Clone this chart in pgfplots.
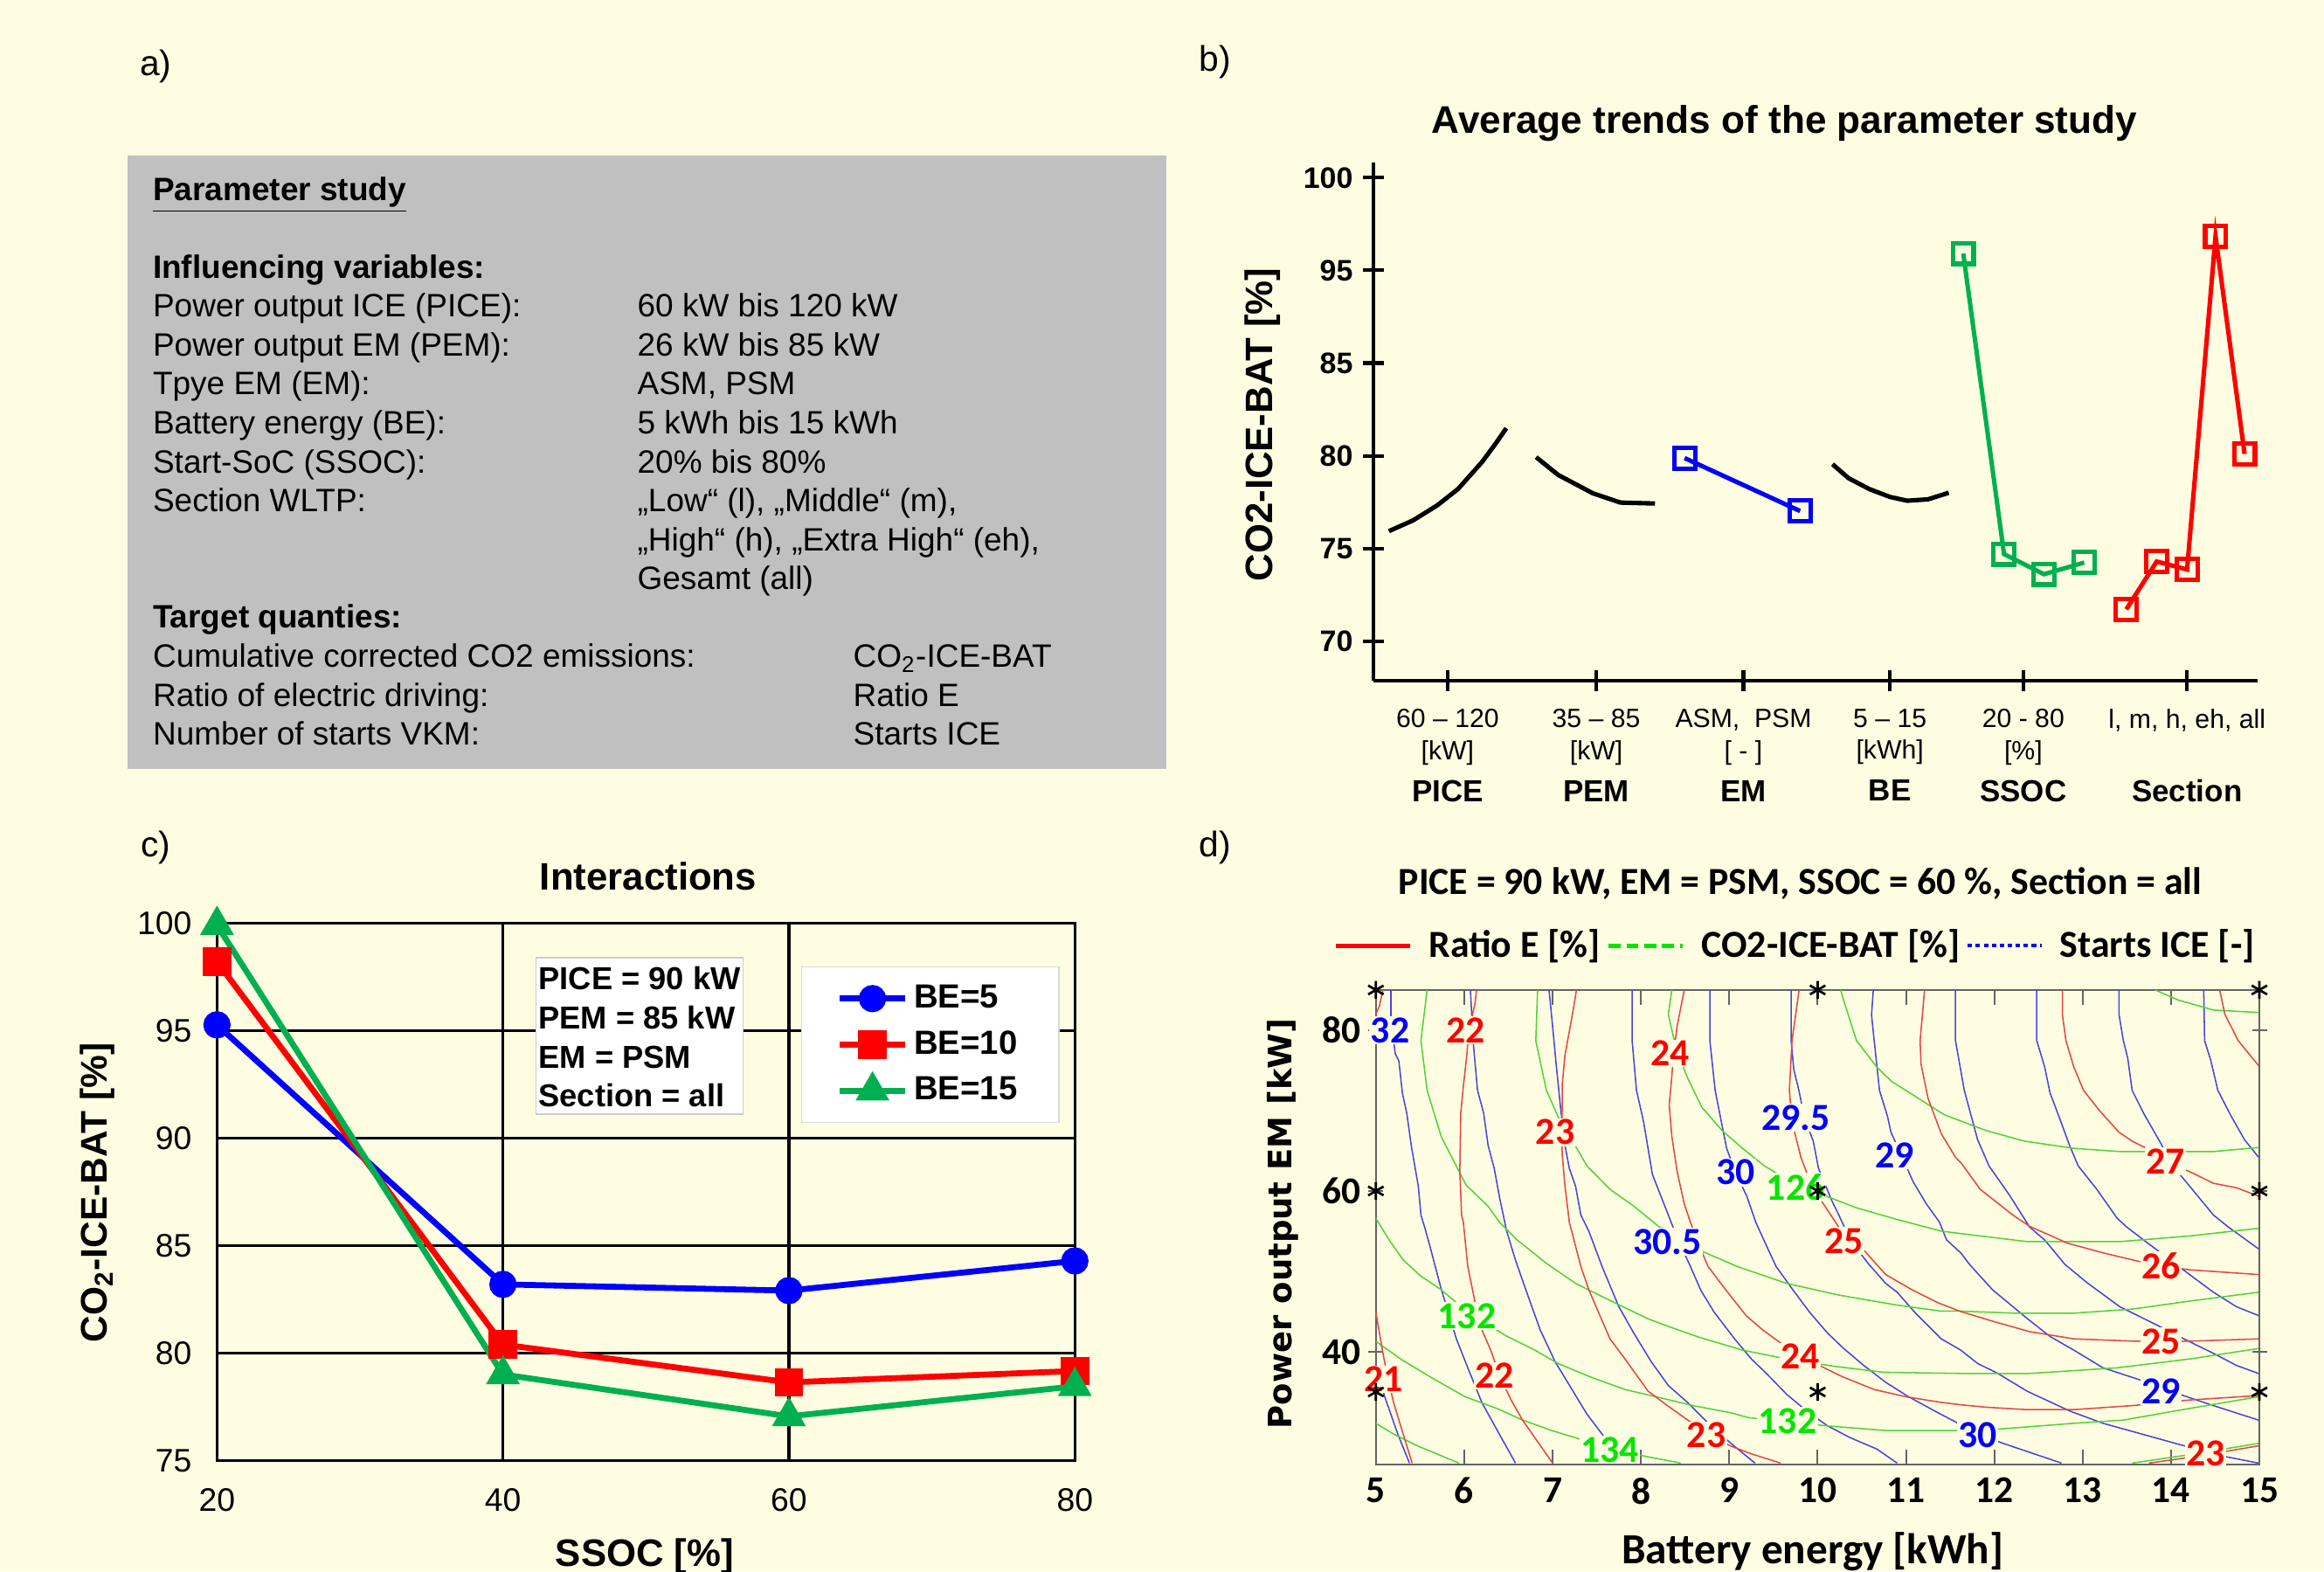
\documentclass[border=0pt]{standalone}
\usepackage{pgfplots}
\pgfplotsset{compat=1.18}
\usepackage{fontspec}
\setmainfont{Liberation Sans}
\newfontfamily\carlito{Carlito}
\newfontfamily\dejavu{DejaVu Sans}

\definecolor{bgy}{RGB}{255,253,225}
\definecolor{boxgray}{RGB}{192,192,192}
\definecolor{offgreen}{RGB}{0,176,80}
\definecolor{cred}{RGB}{228,70,70}
\definecolor{cgreen}{RGB}{80,210,60}
\definecolor{cblue}{RGB}{70,70,215}
\definecolor{lgreen}{RGB}{0,230,0}
\definecolor{frame}{RGB}{100,100,100}

\newcommand\fs[1]{\fontsize{#1}{1.2\dimexpr#1pt\relax}\selectfont}
\newcommand\cat[1]{\\[3.5pt]{\fs{10.3}\bfseries #1}}
\newcommand\clab[3]{\node[fill=bgy,inner sep=0.4pt,text=#3] at (axis cs:#1) {#2};}

\begin{document}
\begin{tikzpicture}
\path[use as bounding box] (0pt,0pt) rectangle (784pt,-530pt);
\fill[bgy] (0pt,0pt) rectangle (784pt,-530pt);

% ---------------- a) ----------------
\node[font=\fs{12}] at (52.5pt,-22.5pt) {a)};
\fill[boxgray] (43pt,-52.5pt) rectangle (393.5pt,-259.5pt);
\begin{scope}[every node/.style={anchor=base west,inner sep=0pt,font=\fs{10.9}}]
\node at (51.4pt,-67.55pt) {\bfseries\underline{Parameter study}};
\node at (51.4pt,-93.9pt) {\bfseries Influencing variables:};
\node at (51.4pt,-106.75pt) {Power output ICE (PICE):};
\node at (214.85pt,-106.75pt) {60 kW bis 120 kW};
\node at (51.4pt,-120.05pt) {Power output EM (PEM):};
\node at (214.85pt,-120.05pt) {26 kW bis 85 kW};
\node at (51.4pt,-133.15pt) {Tpye EM (EM):};
\node at (214.85pt,-133.15pt) {ASM, PSM};
\node at (51.4pt,-146.4pt) {Battery energy (BE):};
\node at (214.85pt,-146.4pt) {5 kWh bis 15 kWh};
\node at (51.4pt,-159.55pt) {Start-SoC (SSOC):};
\node at (214.85pt,-159.55pt) {20\% bis 80\%};
\node at (51.4pt,-172.65pt) {Section WLTP:};
\node at (214.85pt,-172.65pt) {„Low“ (l), „Middle“ (m),};
\node at (214.85pt,-185.9pt) {„High“ (h), „Extra High“ (eh),};
\node at (214.85pt,-198.75pt) {Gesamt (all)};
\node at (51.4pt,-211.65pt) {\bfseries Target quanties:};
\node at (51.4pt,-225.15pt) {Cumulative corrected CO2 emissions:};
\node at (287.65pt,-225.15pt) {CO\textsubscript{2}-ICE-BAT};
\node at (51.4pt,-238.25pt) {Ratio of electric driving:};
\node at (287.65pt,-238.25pt) {Ratio E};
\node at (51.4pt,-251.25pt) {Number of starts VKM:};
\node at (287.65pt,-251.25pt) {Starts ICE};
\end{scope}

% ---------------- b) ----------------
\node[font=\fs{12}] at (410pt,-21pt) {b)};
\node[font=\fs{13}\bfseries] at (602pt,-41.5pt) {Average trends of the parameter study};
\node[font=\fs{12.9}\bfseries,rotate=90] at (426pt,-143.25pt) {CO2-ICE-BAT [\%]};
\begin{axis}[at={(463.4pt,-229.7pt)}, anchor=south west, scale only axis,
  width=298.2pt, height=174.95pt,
  xmin=926.8, xmax=1523.2, ymin=-0.43, ymax=5.166,
  axis lines*=left, axis line style={line width=1.2pt,-},
  tick align=center, major tick length=7pt, tick style={line width=1.2pt,black},
  ytick={0,1,2,3,4,5}, yticklabels={70,75,80,85,95,100},
  yticklabel style={font=\fs{10}\bfseries},
  xtick={976.7,1077.0,1176.3,1275.1,1365.1,1475.6},
  xticklabels={{60 – 120\\{[kW]}\cat{PICE}},{35 – 85\\{[kW]}\cat{PEM}},
    {ASM,\ \ PSM\\{[ - ]}\cat{EM}},{5 – 15\\{[kWh]}\cat{BE}},
    {20 - 80\\{[\%]}\cat{SSOC}},{l, m, h, eh, all\\\mbox{}\cat{Section}}},
  xticklabel style={align=center,font=\fs{8.9},anchor=north,yshift=-2.5pt},
  clip=false]
\addplot[black,line width=1.5pt] coordinates {(937.1,1.187)(953.4,1.303)(969.7,1.465)(983.7,1.641)(1000.0,1.934)(1009.3,2.136)(1016.3,2.298)};
\addplot[black,line width=1.5pt] coordinates {(1036.4,1.985)(1051.3,1.793)(1074.6,1.596)(1093.3,1.495)(1116.6,1.485)};
\addplot[black,line width=1.5pt] coordinates {(1236.4,1.909)(1247.2,1.758)(1261.2,1.641)(1275.1,1.556)(1286.8,1.515)(1300.8,1.530)(1314.8,1.601)};
\addplot[blue,line width=1.5pt,mark=square,mark size=3.5pt] coordinates {(1136.6,1.975)(1214.5,1.404)};
\addplot[offgreen,line width=1.5pt,mark=square,mark size=3.5pt] coordinates {(1324.6,4.182)(1352.1,0.939)(1379.1,0.722)(1406.2,0.848)};
\addplot[red,line width=1.5pt,mark=square,mark size=3.5pt] coordinates {(1434.6,0.343)(1455.1,0.859)(1475.6,0.773)(1494.8,4.369)(1514.4,2.020)};
\end{axis}

% ---------------- c) ----------------
\node[font=\fs{12}] at (52.5pt,-286pt) {c)};
\node[font=\fs{12.9}\bfseries] at (218.7pt,-295.65pt) {Interactions};
\node[font=\fs{12.5}\bfseries,rotate=90] at (33pt,-402.25pt) {CO\textsubscript{2}-ICE-BAT [\%]};
\node[font=\fs{12.9}\bfseries] at (217.5pt,-525pt) {SSOC [\%]};
\begin{axis}[at={(73.2pt,-492.6pt)}, anchor=south west, scale only axis,
  width=289.4pt, height=181.3pt,
  xmin=20, xmax=80, ymin=75, ymax=100,
  xtick={20,40,60,80}, ytick={75,80,...,100},
  grid=major, major grid style={black,line width=1pt},
  axis line style={line width=1pt}, tick style={draw=none},
  /pgf/number format/assume math mode=true,
  ticklabel style={font=\fs{11}},
  yticklabel style={xshift=-5pt}, xticklabel style={yshift=-6pt},
  legend style={at={(0.6805,0.919)}, anchor=north west, draw=gray!30, fill=white,
    font=\fs{11.3}\bfseries, row sep=2.2pt, inner xsep=12pt, inner ysep=4pt},
  legend cell align=left,
  legend image code/.code={\draw[mark repeat=2,mark phase=2,#1] plot coordinates {(0pt,0pt) (11pt,0pt) (22pt,0pt)};},
  clip=false]
\addplot[blue,line width=2pt,mark=*,mark size=3.6pt] coordinates {(20,95.26)(40,83.19)(60,82.90)(80,84.28)};
\addlegendentry{BE=5}
\addplot[red,line width=2pt,mark=square*,mark size=3.8pt] coordinates {(20,98.2)(40,80.39)(60,78.63)(80,79.16)};
\addlegendentry{BE=10}
\addplot[offgreen,line width=2pt,mark=triangle*,mark size=4.6pt] coordinates {(20,99.9)(40,79.0)(60,77.05)(80,78.45)};
\addlegendentry{BE=15}
\end{axis}
\fill[white] (180.8pt,-323.05pt) rectangle (250.75pt,-375.8pt);
\draw[gray!40,line width=0.4pt] (180.8pt,-323.05pt) rectangle (250.75pt,-375.8pt);
\begin{scope}[every node/.style={anchor=base west,inner sep=0pt,font=\fs{10.7}\bfseries}]
\node at (181.5pt,-333.85pt) {PICE = 90 kW};
\node at (181.5pt,-347.1pt) {PEM = 85 kW};
\node at (181.5pt,-360.35pt) {EM = PSM};
\node at (181.5pt,-373.2pt) {Section = all};
\end{scope}

% ---------------- d) ----------------
\node[font=\fs{12}] at (410pt,-286pt) {d)};
\node[font=\carlito\bfseries\fs{12.9}] at (607.3pt,-298pt) {PICE = 90 kW, EM = PSM, SSOC = 60 \%, Section = all};
\node[font=\carlito\bfseries\fs{14.5}] at (611.5pt,-523.3pt) {Battery energy [kWh]};
\node[font=\dejavu\bfseries\fs{10.9},rotate=90] at (432.65pt,-412.7pt) {Power output EM [kW]};
\begin{axis}[at={(464.15pt,-493.9pt)}, anchor=south west, scale only axis,
  width=298.05pt, height=160pt,
  xmin=5, xmax=15, ymin=26, ymax=85,
  xtick={5,...,15}, ytick={40,60,80},
  axis line style={draw=frame,line width=0.6pt},
  tick style={draw=frame,line width=0.6pt},
  xtick align=inside, ytick align=center, major tick length=5pt,
  /pgf/number format/assume math mode=true,
  ticklabel style={font=\carlito\bfseries\fs{12.8}},
  yticklabel style={xshift=1pt}, xticklabel style={yshift=-1pt},
  legend style={at={(-0.0485,1.093)}, anchor=west, draw=none, fill=none,
    legend columns=3, font=\carlito\bfseries\fs{12.9}, inner sep=0pt,
    /tikz/every odd column/.append style={column sep=3.5pt}},
  legend image code/.code={\draw[#1] (0pt,0pt) -- (25pt,0pt);},
  clip=false]
\addlegendimage{red,line width=1.6pt}
\addlegendentry{Ratio E [\%]}
\addlegendimage{lgreen,line width=1.6pt,dash pattern=on 4pt off 2pt}
\addlegendentry{CO2-ICE-BAT [\%]}
\addlegendimage{blue,line width=1.2pt,dash pattern=on 1.5pt off 1.2pt}
\addlegendentry{Starts ICE [-]}
% Starts ICE
\pgfplotsset{every axis plot/.append style={forget plot,line width=0.45pt}}
\addplot[cblue] coordinates {(5.0,38.4)(5.10,34.4)(5.25,29.7)(5.38,26.15)};
\addplot[cblue] coordinates {(5.17,85)(5.17,81)(5.22,77.06)(5.26,76.16)(5.30,72.17)(5.35,69.65)(5.40,65.67)(5.48,60.61)(5.51,56.99)(5.56,55.19)(5.61,53.19)(5.74,47.77)(5.91,41.63)(6.04,38.01)(6.20,33.67)(6.40,29.70)(6.58,26.15)};
\addplot[cblue] coordinates {(6.07,85.0)(6.10,78.68)(6.15,72.54)(6.22,69.65)(6.27,65.67)(6.34,62.78)(6.40,59.16)(6.48,55.0)(6.58,51.39)(6.73,46.69)(6.86,42.71)(7.03,38.73)(7.19,35.84)(7.39,32.22)(7.59,29.33)(7.89,26.15)};
\addplot[cblue] coordinates {(6.96,85.0)(7.00,80.5)(7.04,75.8)(7.09,70.37)(7.14,65.67)(7.19,62.78)(7.26,60.6)(7.32,57.0)(7.41,55.0)(7.56,50.6)(7.75,45.6)(7.92,42.3)(8.12,38.7)(8.31,35.8)(8.53,33.67)(8.79,30.8)(9.02,28.6)(9.29,26.15)};
\addplot[cblue] coordinates {(7.90,85)(7.90,78.7)(7.95,72.5)(8.03,68.6)(8.13,62.05)(8.31,57.0)(8.42,53.9)(8.55,50.85)(8.68,47.6)(8.83,44.9)(9.06,41.6)(9.25,39.1)(9.42,37.3)(9.65,34.7)(9.88,32.6)(10.11,30.8)(10.37,29.3)(10.67,27.9)(10.90,26.15)};
\addplot[cblue] coordinates {(8.78,85)(8.78,78.7)(8.84,72.5)(8.91,68.6)(8.97,65.3)(9.07,62.3)(9.20,59.3)(9.30,56.1)(9.42,53.2)(9.53,50.6)(9.72,47.7)(9.91,44.9)(10.11,42.35)(10.28,40.55)(10.51,38.4)(10.77,36.2)(11.03,34.4)(11.33,32.6)(11.59,31.1)(11.81,29.8)(12.10,28.6)(12.76,26.15)};
\addplot[cblue] coordinates {(9.70,85)(9.70,78.7)(9.73,75.1)(9.79,72.4)(9.85,69.1)(9.95,66.2)(10.01,62.8)(10.16,58.8)(10.24,57.0)(10.37,53.9)(10.57,51.0)(10.77,48.5)(10.90,47.4)(11.10,44.9)(11.40,41.6)(11.62,40.2)(11.81,38.55)(12.04,37.3)(12.37,35.1)(12.86,32.6)(13.23,31.1)(13.69,29.7)(14.05,28.6)(14.55,27.1)(14.99,26.15)};
\addplot[cblue] coordinates {(10.63,85)(10.61,81.9)(10.64,78.7)(10.70,72.5)(10.79,69.3)(10.83,67.3)(10.95,64.4)(11.08,61.15)(11.23,58.4)(11.38,56.1)(11.46,53.9)(11.62,52.3)(11.72,50.85)(11.98,47.7)(12.37,44.15)(12.63,41.9)(12.90,40.2)(13.23,38.0)(13.62,36.6)(13.9,35.5)(14.18,34.4)(14.48,33.3)(14.99,31.5)};
\addplot[cblue] coordinates {(11.56,85)(11.56,78.7)(11.66,72.5)(11.81,66.4)(11.94,63.1)(12.17,59.5)(12.40,55.5)(12.57,53.9)(12.80,50.85)(13.06,48.5)(13.42,45.6)(13.88,43.1)(14.21,41.25)(14.48,39.8)(14.74,38.3)(14.99,37.3)};
\addplot[cblue] coordinates {(12.48,85)(12.48,78.7)(12.57,75.4)(12.63,72.2)(12.73,69.3)(12.85,65.7)(12.95,63.1)(13.16,60.2)(13.39,56.6)(13.50,55.5)(13.69,53.9)(13.95,51.75)(14.21,49.6)(14.48,47.4)(14.74,45.6)(14.99,44.5)};
\addplot[cblue] coordinates {(13.41,85)(13.41,82)(13.46,78.7)(13.51,76.5)(13.56,72.5)(13.69,69.65)(13.88,66.0)(14.02,63.1)(14.21,60.6)(14.48,57.0)(14.65,55.5)(14.99,52.8)};
\addplot[cblue] coordinates {(14.37,85)(14.38,78.7)(14.45,76.2)(14.53,72.5)(14.68,69.3)(14.83,66.4)(14.99,64.2)};
% CO2-ICE-BAT
\addplot[cgreen] coordinates {(5.0,31.1)(5.21,29.7)(5.48,28.25)(5.94,26.15)};
\addplot[cgreen] coordinates {(5.0,41.3)(5.28,39.1)(5.61,36.9)(6.01,34.4)(6.37,32.95)(6.66,31.5)(6.99,30.2)(7.26,29.3)(7.65,27.9)(8.07,26.95)(8.45,26.15)};
\addplot[cgreen] coordinates {(5.0,56.6)(5.15,53.9)(5.31,51.4)(5.51,49.4)(5.74,47.7)(6.03,45.0)(6.47,42.0)(6.80,40.2)(7.06,38.55)(7.42,36.9)(7.82,35.3)(8.25,34.2)(8.59,33.3)(9.02,32.4)(9.22,31.8)(9.66,31.3)(10.08,30.8)(10.77,30.2)(11.68,30.2)(12.07,30.4)(12.90,31.1)(13.46,31.5)(14.21,32.95)(14.99,34.4)};
\addplot[cgreen] coordinates {(5.58,85)(5.51,78.7)(5.58,72.5)(5.74,66.75)(5.91,63.1)(6.02,60.75)(6.27,58.1)(6.40,56.1)(6.60,53.9)(6.93,51.0)(7.26,48.5)(7.59,46.7)(8.08,44.1)(8.31,43.15)(8.66,41.8)(9.15,40.2)(9.65,39.1)(10.18,38.2)(10.74,37.45)(11.62,37.3)(12.40,37.3)(13.39,38.0)(14.21,39.1)(14.99,40.4)};
\addplot[cgreen] coordinates {(6.83,85)(6.81,78.7)(6.93,72.5)(7.06,69.3)(7.39,63.1)(7.65,60.2)(7.92,58.1)(8.21,55.5)(8.36,54.9)(8.69,52.5)(9.09,50.6)(9.65,48.5)(10.24,47.05)(10.90,45.8)(11.40,45.05)(11.62,45.05)(12.23,44.8)(12.90,44.8)(13.56,45.3)(14.21,46.3)(14.99,47.4)};
\addplot[cgreen] coordinates {(8.35,85)(8.31,81.95)(8.40,77.6)(8.53,74.0)(8.69,70.4)(8.92,67.5)(9.15,65.3)(9.40,63.1)(9.75,60.8)(10.18,59.0)(10.44,57.9)(10.90,56.45)(11.40,55.0)(11.62,54.7)(12.37,53.7)(13.42,53.7)(14.21,54.4)(14.99,55.35)};
\addplot[cgreen] coordinates {(10.26,85)(10.30,83.5)(10.44,78.7)(10.67,75.4)(10.84,73.6)(11.10,71.8)(11.43,69.5)(11.62,68.7)(11.91,67.5)(12.34,66.2)(12.90,65.3)(13.42,64.9)(14.48,64.9)(14.99,65.4)};
\addplot[cgreen] coordinates {(13.82,85)(14.08,83.75)(14.48,82.5)(14.99,82.2)};
\addplot[cgreen] coordinates {(13.56,26.15)(14.21,27.2)(14.99,28.6)};
% Ratio E
\addplot[cred] coordinates {(5.08,85)(5.04,83)(5.0,82)};
\addplot[cred] coordinates {(5.0,44.9)(5.08,39.8)(5.13,37)(5.20,33.7)(5.28,30.8)(5.41,26.15)};
\addplot[cred] coordinates {(6.14,85)(6.12,83.2)(6.05,80)(6.03,77.0)(5.99,73)(5.96,69.65)(5.95,62.4)(5.97,57.0)(5.99,56.1)(6.04,50.6)(6.12,46.3)(6.20,42.7)(6.30,40.2)(6.40,37.0)(6.53,34.0)(6.66,31.5)(6.80,29.3)(7.0,26.15)};
\addplot[cred] coordinates {(7.27,85)(7.23,82.3)(7.14,76.9)(7.11,73.3)(7.11,70.6)(7.10,67.3)(7.11,64.4)(7.14,60.6)(7.19,56.1)(7.32,50.6)(7.41,47.7)(7.52,44.9)(7.65,41.6)(7.82,39.1)(8.08,35.1)(8.30,33.3)(8.53,31.5)(8.75,29.8)(9.02,28.25)(9.25,27.3)(9.58,26.15)};
\addplot[cred] coordinates {(8.49,85)(8.41,80.5)(8.37,77.1)(8.35,74.3)(8.32,70.7)(8.35,66.75)(8.41,62.4)(8.49,58.4)(8.56,56.1)(8.66,53.2)(8.76,50.6)(8.96,47.7)(9.19,44.5)(9.38,42.7)(9.58,41.1)(9.85,39.3)(10.11,37.8)(10.28,36.9)(10.64,35.3)(11.0,34.4)(11.40,33.7)(11.62,33.4)(11.91,33.1)(12.37,32.8)(12.90,32.8)(13.56,33.3)(14.21,34.0)(14.99,34.55)};
\addplot[cred] coordinates {(9.79,85)(9.71,78.7)(9.68,72.5)(9.71,68.6)(9.81,64.2)(9.91,61.3)(10.04,58.8)(10.24,55.5)(10.35,54)(10.51,52.8)(10.77,49.6)(11.07,47.7)(11.36,46.1)(11.62,45.0)(11.98,43.8)(12.40,42.5)(12.90,41.6)(13.62,41.3)(14.18,41.3)(14.99,41.6)};
\addplot[cred] coordinates {(11.21,85)(11.16,78.7)(11.17,75.8)(11.25,71.5)(11.40,67.1)(11.56,64.2)(11.63,63.4)(11.84,60.2)(12.21,57.0)(12.40,55.6)(12.83,53.5)(13.23,52.3)(13.65,51.2)(13.9,50.7)(14.20,50.2)(14.99,49.6)};
\addplot[cred] coordinates {(12.77,85)(12.77,81.95)(12.81,78.7)(12.90,75.4)(13.01,72.5)(13.19,70.0)(13.41,67.3)(13.56,66.2)(13.72,65.3)(13.94,63.7)(14.25,62.2)(14.48,60.95)(14.74,60.4)(14.99,59.35)};
\addplot[cred] coordinates {(14.55,85)(14.61,81.95)(14.76,78.7)(14.99,75.6)};
\addplot[cred] coordinates {(13.75,26.15)(14.3,27.0)(14.99,28.3)};
% contour labels
\begin{scope}[every node/.append style={font=\carlito\bfseries\fs{12.9}}]
\clab{5.16,80.0}{32}{blue}
\clab{9.75,69.1}{29.5}{blue}
\clab{9.07,62.3}{30}{blue}
\clab{8.30,53.7}{30.5}{blue}
\clab{10.87,64.4}{29}{blue}
\clab{13.89,35.1}{29}{blue}
\clab{11.81,29.6}{30}{blue}
\clab{6.02,80}{22}{red}
\clab{8.33,77.1}{24}{red}
\clab{7.03,67.3}{23}{red}
\clab{13.94,63.7}{27}{red}
\clab{10.30,53.8}{25}{red}
\clab{13.89,50.7}{26}{red}
\clab{13.89,41.3}{25}{red}
\clab{9.80,39.4}{24}{red}
\clab{5.09,36.6}{21}{red}
\clab{6.34,37.0}{22}{red}
\clab{8.74,29.6}{23}{red}
\clab{14.39,27.4}{23}{red}
\clab{9.75,60.5}{126}{lgreen}
\clab{6.03,44.45}{132}{lgreen}
\clab{9.66,31.4}{132}{lgreen}
\clab{7.65,27.8}{134}{lgreen}
\end{scope}
\addplot[only marks,mark=asterisk,mark size=3pt,black,line width=0.8pt] coordinates {(5,85)(10,85)(15,85)(5,60)(10,60)(15,60)(5,35)(10,35)(15,35)};
\end{axis}
\end{tikzpicture}
\end{document}
